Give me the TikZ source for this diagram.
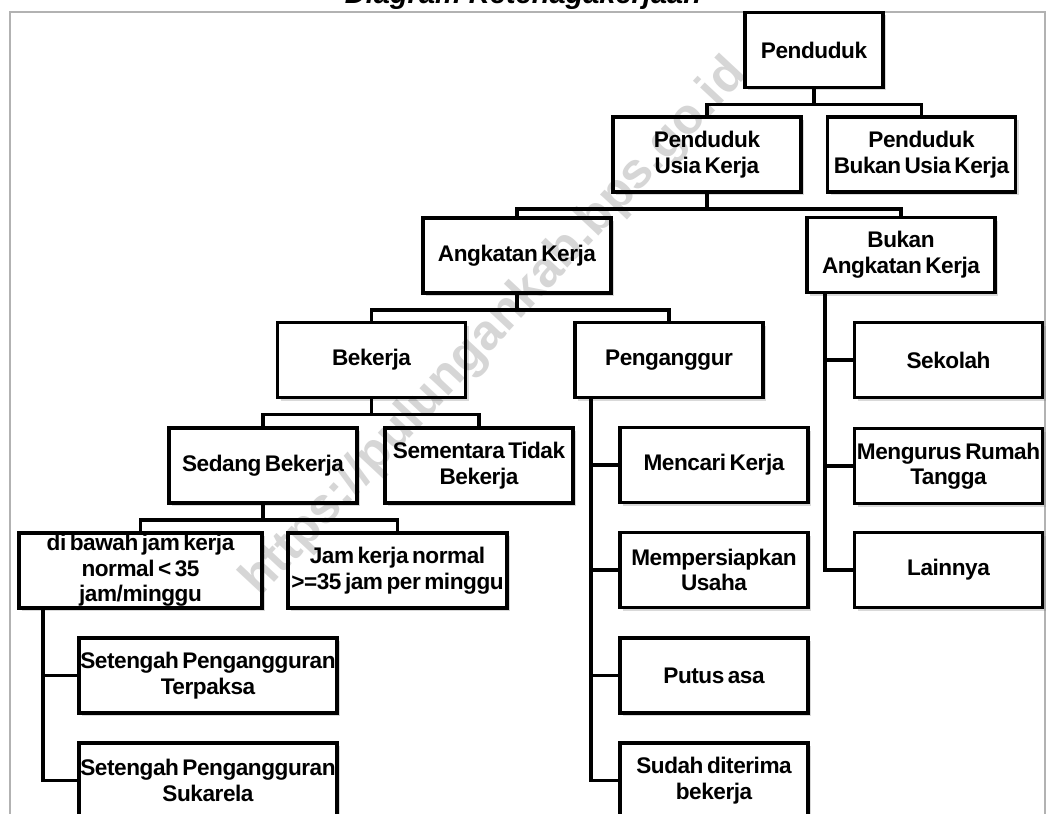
\documentclass[tikz,border=0pt]{standalone}
\usepackage{fontspec}
\setmainfont{Liberation Sans}
\newfontfamily\boxfont{Liberation Sans}[WordSpace=0.6, LetterSpace=-2]
\usetikzlibrary{calc, shadows}

\begin{document}
\begin{tikzpicture}[x=0.5pt, y=-0.5pt,
    box/.style={draw, line width=1.8pt, fill=white, align=center, inner sep=0pt,
        minimum width=94pt, minimum height=37.5pt,
        font=\boxfont\bfseries\fontsize{11.3}{12.8}\selectfont,
        drop shadow={shadow xshift=1.5pt, shadow yshift=-1.5pt, opacity=0.3}},
    link/.style={line width=1.8pt},
    watermark/.style={text=black!16, font=\bfseries\fontsize{25}{25}\selectfont}
]
    \useasboundingbox (0,0) rectangle (1047,813);
    \clip (0,0) rectangle (1047,813);

    % Frame and title
    \draw[gray!60, line width=0.8pt] (10,12) rectangle (1045,840);
    \node[font=\bfseries\itshape\fontsize{14.5}{17}\selectfont, anchor=base] (title) at (523,3.5) {Diagram Ketenagakerjaan};

    % Main tree
    \node[box, minimum width=69pt] (pend) at (814,50) {Penduduk};
    \node[box] (usia) at (707,154.5) {Penduduk\\Usia Kerja};
    \node[box] (bukanusia) at (921.5,154.5) {Penduduk\\Bukan Usia Kerja};
    \node[box] (angkatan) at (517,255.5) {Angkatan Kerja};
    \node[box] (bukanak) at (901,255) {Bukan\\Angkatan Kerja};
    \node[box] (bekerja) at (371.5,360) {Bekerja};
    \node[box] (penganggur) at (669,360) {Penganggur};
    \node[box] (sedang) at (263,465.5) {Sedang Bekerja};
    \node[box] (sementara) at (479,465.5) {Sementara Tidak\\Bekerja};
    \node[box, minimum width=121.5pt] (dibawah) at (140.5,570.5) {di bawah jam kerja\\normal < 35\\jam/minggu};
    \node[box, minimum width=109.5pt] (jamnormal) at (397.5,570.5) {Jam kerja normal\\>=35 jam per minggu};

    % Side lists
    \node[box, minimum width=129pt] (terpaksa) at (208,675.5) {Setengah Pengangguran\\Terpaksa};
    \node[box, minimum width=129pt] (sukarela) at (208,780.5) {Setengah Pengangguran\\Sukarela};
    \node[box] (mencari) at (714,465) {Mencari Kerja};
    \node[box] (usaha) at (714,570) {Mempersiapkan\\Usaha};
    \node[box] (putus) at (714,675.5) {Putus asa};
    \node[box] (diterima) at (714,780.5) {Sudah diterima\\bekerja};
    \node[box] (sekolah) at (948.5,360) {Sekolah};
    \node[box] (rumah) at (948.5,466) {Mengurus Rumah\\Tangga};
    \node[box] (lainnya) at (948.5,570) {Lainnya};

    % Connectors
    \foreach \p/\c in {pend/usia, pend/bukanusia, usia/angkatan, usia/bukanak,
        angkatan/bekerja, angkatan/penganggur, bekerja/sedang, bekerja/sementara,
        sedang/dibawah, sedang/jamnormal}
        \draw[link] (\p.south) -- ++(0,15) -| (\c.north);

    \coordinate (sp1) at ($(dibawah.south west)+(26,0)$);
    \coordinate (sp2) at ($(penganggur.south west)+(18,0)$);
    \coordinate (sp3) at ($(bukanak.south west)+(20,0)$);
    \foreach \c in {terpaksa, sukarela}
        \draw[link] (sp1) |- (\c.west);
    \foreach \c in {mencari, usaha, putus, diterima}
        \draw[link] (sp2) |- (\c.west);
    \foreach \c in {sekolah, rumah, lainnya}
        \draw[link] (sp3) |- (\c.west);

    % Watermark
    \begin{scope}[blend mode=multiply]
        \node[watermark, rotate=47] (wm) at (495,328) {https://pulungankab.bps.go.id};
    \end{scope}
\end{tikzpicture}
\end{document}
